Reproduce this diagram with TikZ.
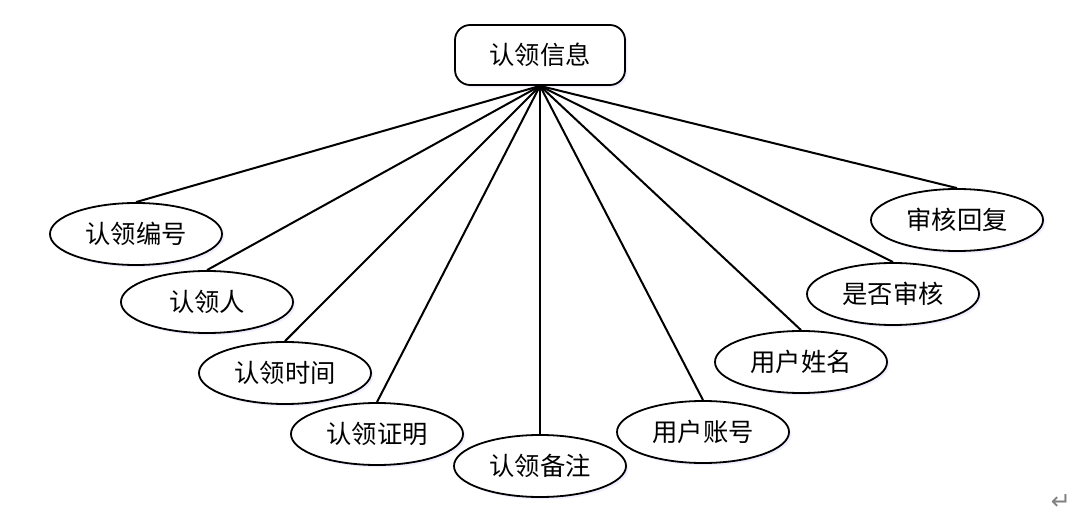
\documentclass[tikz,border=0pt]{standalone}
\usepackage{fontspec}
\newfontfamily\cjk{Noto Sans CJK SC}
\newfontfamily\symfont{DejaVu Sans}
\usepackage{tikz}
\usetikzlibrary{shapes.geometric,shadows}

\tikzset{
	attr/.style={ellipse, draw, line width=0.45mm, fill=white, minimum width=4.3cm, minimum height=1.55cm, inner sep=0pt, font=\cjk\fontsize{18}{20}\selectfont, drop shadow={fill=blue!25, opacity=0.25, shadow xshift=0.6mm, shadow yshift=-0.6mm}},
	entity/.style={rectangle, rounded corners=0.38cm, draw, line width=0.45mm, fill=white, minimum width=4.25cm, minimum height=1.5cm, inner sep=0pt, font=\cjk\fontsize{18}{20}\selectfont, drop shadow={fill=blue!25, opacity=0.25, shadow xshift=0.6mm, shadow yshift=-0.6mm}},
	link/.style={line width=0.5mm, color=black}
}

\begin{document}
\begin{tikzpicture}[x=0.025cm, y=-0.025cm]
			%%%%% START %%%%%
			\useasboundingbox (0, 0) rectangle (1071, 530);
			
			\node[entity] (info) at (540, 55) {认领信息};
			
			\node[attr] (bianhao) at (136, 234) {认领编号};
			\node[attr] (ren) at (207, 302) {认领人};
			\node[attr] (shijian) at (285, 373) {认领时间};
			\node[attr] (zhengming) at (377, 434) {认领证明};
			\node[attr] (beizhu) at (540, 466) {认领备注};
			\node[attr] (zhanghao) at (703, 432) {用户账号};
			\node[attr] (xingming) at (801, 362) {用户姓名};
			\node[attr] (shenhe) at (893, 294) {是否审核};
			\node[attr] (huifu) at (957, 220) {审核回复};
			
			\draw[link] (info.south) -- (bianhao.north);
			\draw[link] (info.south) -- (ren.north);
			\draw[link] (info.south) -- (shijian.north);
			\draw[link] (info.south) -- (zhengming.north);
			\draw[link] (info.south) -- (beizhu.north);
			\draw[link] (info.south) -- (zhanghao.north);
			\draw[link] (info.south) -- (xingming.north);
			\draw[link] (info.south) -- (shenhe.north);
			\draw[link] (info.south) -- (huifu.north);
			
			\node[color=black!50, font=\symfont\fontsize{17}{18}\selectfont] (mark) at (1061, 502) {↵};
			%%%%% END %%%%%
\end{tikzpicture}
\end{document}
